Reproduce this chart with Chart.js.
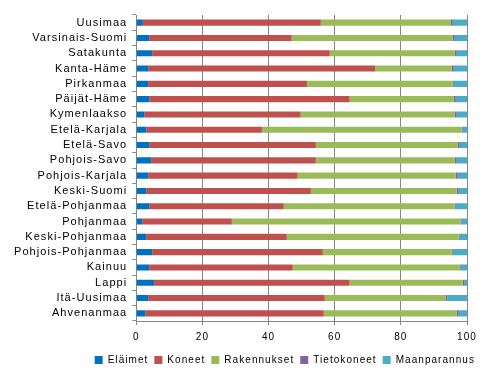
<!DOCTYPE html>
<html>
<head>
<meta charset="utf-8">
<script src="https://cdn.jsdelivr.net/npm/chart.js@4/dist/chart.umd.min.js"></script>
<style>
  html, body { margin: 0; padding: 0; background: #fff; }
  #wrap { width: 493px; height: 390px; }
</style>
</head>
<body>
<div id="wrap"><canvas id="chart" width="493" height="390"></canvas></div>
<script>
// Regions (top to bottom)
const regions = [
  'Uusimaa', 'Varsinais-Suomi', 'Satakunta', 'Kanta-Häme', 'Pirkanmaa',
  'Päijät-Häme', 'Kymenlaakso', 'Etelä-Karjala', 'Etelä-Savo', 'Pohjois-Savo',
  'Pohjois-Karjala', 'Keski-Suomi', 'Etelä-Pohjanmaa', 'Pohjanmaa',
  'Keski-Pohjanmaa', 'Pohjois-Pohjanmaa', 'Kainuu', 'Lappi', 'Itä-Uusimaa',
  'Ahvenanmaa',
];

// Shares in percent
const elaimet = [2.0, 3.9, 4.8, 3.6, 3.6, 3.9, 2.4, 3.0, 3.9, 4.5, 3.6, 3.0, 3.9, 1.8, 3.0, 4.8, 3.9, 5.4, 3.6, 2.7];
const koneet = [53.8, 43.1, 53.7, 68.7, 48.0, 60.6, 47.3, 35.0, 50.4, 49.8, 45.2, 49.8, 40.7, 27.1, 42.5, 51.6, 43.4, 59.1, 53.4, 54.0];
const rakennukset = [39.2, 48.7, 37.8, 23.1, 44.1, 31.5, 46.6, 60.4, 42.9, 42.0, 47.8, 44.1, 51.7, 69.2, 52.0, 39.0, 50.5, 34.2, 36.5, 40.2];
const tietokoneet = [0.7, 0.6, 0.6, 0.6, 0.3, 0.6, 0.6, 0.3, 0.6, 0.6, 0.6, 0.6, 0.3, 0.3, 0.3, 0.3, 0.3, 0.6, 0.6, 0.6];
const maanparannus = [4.3, 3.7, 3.1, 4.0, 4.0, 3.4, 3.1, 1.3, 2.2, 3.1, 2.8, 2.5, 3.4, 1.6, 2.2, 4.3, 1.9, 0.7, 5.9, 2.5];

const xTicks = [0, 20, 40, 60, 80, 100];

Chart.defaults.font.family = '"Liberation Sans", Arial, sans-serif';
Chart.defaults.font.size = 10;
Chart.defaults.color = '#000';

const series = [
  { label: 'Eläimet', data: elaimet, color: '#0070C0' },
  { label: 'Koneet', data: koneet, color: '#C0504D' },
  { label: 'Rakennukset', data: rakennukset, color: '#9BBB59' },
  { label: 'Tietokoneet', data: tietokoneet, color: '#8064A2' },
  { label: 'Maanparannus', data: maanparannus, color: '#4BACC6' },
];

// the original text is drawn a little spaced out
const spacing = {
  id: 'spacing',
  beforeUpdate(chart) { chart.ctx.letterSpacing = '1.05px'; },
  beforeDraw(chart) { chart.ctx.letterSpacing = '1.05px'; },
};

const chartData = {
  labels: regions,
  datasets: series.map((s) => ({
    label: s.label,
    data: s.data,
    backgroundColor: s.color,
    borderWidth: 0,
    categoryPercentage: 1,
    barPercentage: 0.4,
  })),
};

const chartOptions = {
  indexAxis: 'y',
  responsive: false,
  animation: false,
  layout: {
    padding: { left: 9, right: 12, top: 15, bottom: 15 },
  },
  scales: {
    x: {
      stacked: true,
      min: 0,
      max: 100,
      afterBuildTicks: (axis) => {
        axis.ticks = xTicks.map((v) => ({ value: v }));
      },
      afterFit: (axis) => {
        // keep the plot edges where the original has them
        axis.paddingRight = 26;
        axis.height = 28;
      },
      grid: {
        color: '#868686',
        lineWidth: 1,
        tickLength: 4,
      },
      border: { color: '#868686' },
      ticks: { padding: 6, font: { size: 10 } },
    },
    y: {
      stacked: true,
      grid: {
        drawOnChartArea: false,
        color: '#868686',
        tickLength: 4,
      },
      border: { color: '#868686' },
      ticks: { padding: 5, autoSkip: false, font: { size: 11 } },
    },
  },
  plugins: {
    legend: {
      position: 'bottom',
      align: 'end',
      labels: {
        boxWidth: 8,
        boxHeight: 8,
        padding: 6,
        color: '#000',
        font: { size: 10 },
      },
    },
    tooltip: { enabled: false },
  },
};

new Chart(document.getElementById('chart'), {
  type: 'bar',
  data: chartData,
  options: chartOptions,
  plugins: [spacing],
});
</script>
</body>
</html>
